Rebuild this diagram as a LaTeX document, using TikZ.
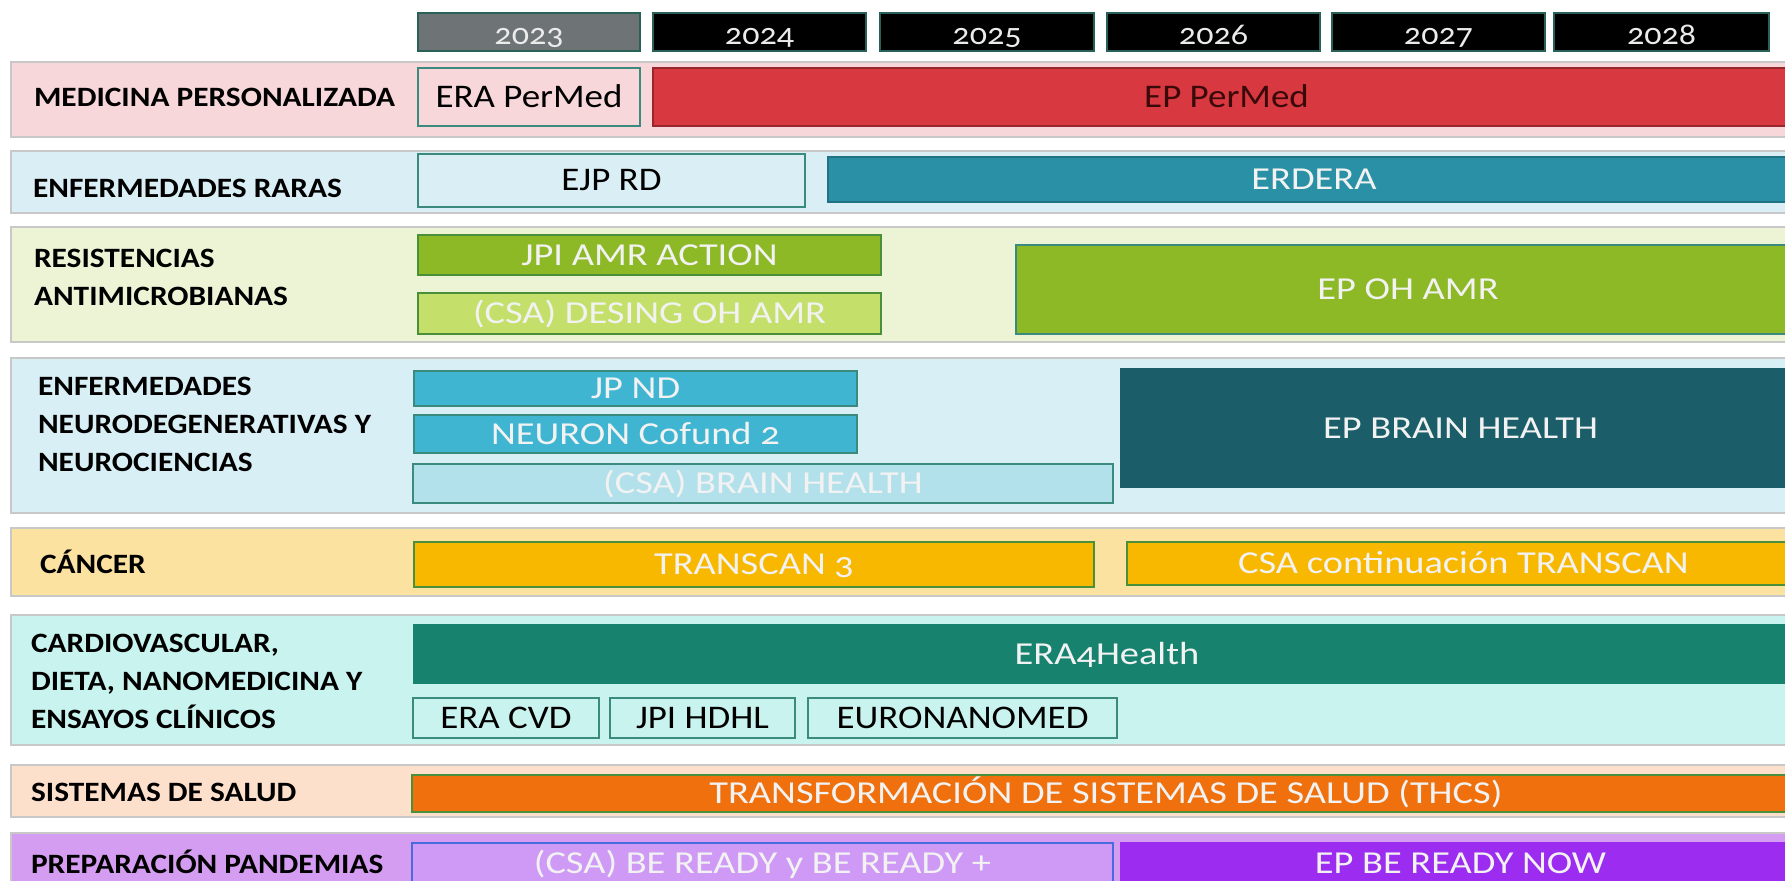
\documentclass[tikz,border=0pt]{standalone}
\usepackage{fontspec}
\setmainfont{Carlito}[Numbers=OldStyle]
\newfontfamily\lblfont{Carlito}[Numbers=OldStyle, FakeStretch=1.12]
\newfontfamily\barfont{Carlito}[Numbers=OldStyle, FakeStretch=1.2]
\definecolor{rowline}{HTML}{C8C8C8}
\definecolor{bgA}{HTML}{F8D7DA}
\definecolor{bgB}{HTML}{D9EEF5}
\definecolor{bgC}{HTML}{EDF4D6}
\definecolor{bgD}{HTML}{D9EFF6}
\definecolor{bgE}{HTML}{FCE2A0}
\definecolor{bgF}{HTML}{C8F3EE}
\definecolor{bgG}{HTML}{FDE0CB}
\definecolor{bgH}{HTML}{D59DF2}
\definecolor{tealline}{HTML}{3A8A7E}
\definecolor{greenline}{HTML}{4A8F3A}
\definecolor{cRed}{HTML}{D8383F}
\definecolor{cErdera}{HTML}{2990A5}
\definecolor{cAmr}{HTML}{8DB926}
\definecolor{cAmrL}{HTML}{C4E06B}
\definecolor{cNd}{HTML}{3FB5D2}
\definecolor{cBrainL}{HTML}{B3E1EB}
\definecolor{cBrain}{HTML}{1B5E6A}
\definecolor{cTrans}{HTML}{F8B800}
\definecolor{cEra4}{HTML}{17836F}
\definecolor{cThcs}{HTML}{EF700C}
\definecolor{cReadyL}{HTML}{CF9AF5}
\definecolor{cReady}{HTML}{9B2CF0}
\definecolor{blueline}{HTML}{4A6AE0}
\definecolor{yeargray}{HTML}{6E7375}
\definecolor{darktext}{HTML}{3A0A0A}
\newcommand\bx[7]{%
  \pgfmathsetmacro\bw{(#4-#2)*0.5}%
  \pgfmathsetmacro\bh{(#5-#3)*0.5}%
  \node[#6, minimum width=\bw pt, minimum height=\bh pt, inner sep=0pt, outer sep=0pt] (#1) at ({(#2+#4)/2},{(#3+#5)/2}) {#7};}
\tikzset{
  rowbg/.style={draw=rowline, line width=0.8pt},
  yearbox/.style={fill=black, draw=tealline!70!black, line width=0.6pt, text=white!92!black,
    font=\lblfont\fontsize{15.2}{17}\selectfont, text height=12.1pt, text depth=0pt},
  lbl/.style={anchor=west, align=left, font=\lblfont\bfseries\fontsize{14}{19}\selectfont, text=black},
  bar/.style={line width=0.9pt, text=white!95!black, font=\barfont\fontsize{16}{18}\selectfont,
    text height=10.1pt, text depth=0pt},
  darkbar/.style={line width=0.9pt, text=black, font=\lblfont\fontsize{16.5}{18}\selectfont,
    text height=10.4pt, text depth=0pt},
}
\begin{document}
\begin{tikzpicture}[x=0.5pt,y=-0.5pt]
\useasboundingbox (0,0) rectangle (1785,881);
\clip (0,0) rectangle (1785,881);
% years
\bx{y23}{418}{13}{640}{51}{yearbox, fill=yeargray}{2023}
\bx{y24}{653}{13}{866}{51}{yearbox}{2024}
\bx{y25}{880}{13}{1094}{51}{yearbox}{2025}
\bx{y26}{1107}{13}{1320}{51}{yearbox}{2026}
\bx{y27}{1332}{13}{1545}{51}{yearbox}{2027}
\bx{y28}{1554}{13}{1769}{51}{yearbox}{2028}
% row backgrounds
\bx{rowA}{11}{62}{1800}{137}{rowbg, fill=bgA}{}
\bx{rowB}{11}{151}{1800}{213}{rowbg, fill=bgB}{}
\bx{rowC}{11}{227}{1800}{342}{rowbg, fill=bgC}{}
\bx{rowD}{11}{358}{1800}{513}{rowbg, fill=bgD}{}
\bx{rowE}{11}{528}{1800}{596}{rowbg, fill=bgE}{}
\bx{rowF}{11}{615}{1800}{745}{rowbg, fill=bgF}{}
\bx{rowG}{11}{765}{1800}{817}{rowbg, fill=bgG}{}
\bx{rowH}{11}{833}{1800}{900}{rowbg, fill=bgH}{}
% labels
\node[lbl] (lA) at (27,97) {MEDICINA PERSONALIZADA};
\node[lbl] (lB) at (26,188) {ENFERMEDADES RARAS};
\node[lbl] (lC) at (27,277) {RESISTENCIAS\\ANTIMICROBIANAS};
\node[lbl] (lD) at (31,424) {ENFERMEDADES\\NEURODEGENERATIVAS Y\\NEUROCIENCIAS};
\node[lbl] (lE) at (33,562) {CÁNCER};
\node[lbl] (lF) at (24,681) {CARDIOVASCULAR,\\DIETA, NANOMEDICINA Y\\ENSAYOS CLÍNICOS};
\node[lbl] (lG) at (24,792) {SISTEMAS DE SALUD};
\node[lbl] (lH) at (24,862) {PREPARACIÓN PANDEMIAS};
% row 1
\bx{erapermed}{418}{68}{640}{126}{darkbar, fill=bgA, draw=tealline}{ERA PerMed}
\bx{eppermed}{653}{68}{1800}{126}{darkbar, fill=cRed, draw=cRed!70!black, text=darktext}{EP PerMed}
% row 2
\bx{ejprd}{418}{154}{805}{207}{darkbar, fill=bgB, draw=tealline}{EJP RD}
\bx{erdera}{828}{157}{1800}{202}{bar, fill=cErdera, draw=cErdera!80!black}{ERDERA}
% row 3
\bx{jpiamr}{418}{235}{881}{275}{bar, fill=cAmr, draw=greenline}{JPI AMR ACTION}
\bx{csaamr}{418}{293}{881}{334}{bar, fill=cAmrL, draw=greenline}{(CSA) DESING OH AMR}
\bx{epamr}{1016}{245}{1800}{334}{bar, fill=cAmr, draw=tealline}{EP OH AMR}
% row 4
\bx{jpnd}{414}{371}{857}{406}{bar, fill=cNd, draw=tealline}{JP ND}
\bx{neuron}{414}{415}{857}{453}{bar, fill=cNd, draw=tealline}{NEURON Cofund 2}
\bx{csabrain}{413}{464}{1113}{503}{bar, fill=cBrainL, draw=tealline}{(CSA) BRAIN HEALTH}
\bx{epbrain}{1121}{369}{1800}{487}{bar, fill=cBrain, draw=cBrain}{EP BRAIN HEALTH}
% row 5
\bx{transcan}{414}{542}{1094}{587}{bar, fill=cTrans, draw=greenline}{TRANSCAN 3}
\bx{csatrans}{1127}{542}{1800}{585}{bar, fill=cTrans, draw=greenline}{CSA continuación TRANSCAN}
% row 6
\bx{era4}{414}{625}{1800}{683}{bar, fill=cEra4, draw=cEra4}{ERA4Health}
\bx{eracvd}{413}{698}{599}{738}{darkbar, fill=bgF, draw=tealline}{ERA CVD}
\bx{jpihdhl}{610}{698}{795}{738}{darkbar, fill=bgF, draw=tealline}{JPI HDHL}
\bx{euronano}{808}{698}{1117}{738}{darkbar, fill=bgF, draw=tealline}{EURONANOMED}
% row 7
\bx{thcs}{412}{775}{1800}{812}{bar, fill=cThcs, draw=greenline}{TRANSFORMACIÓN DE SISTEMAS DE SALUD (THCS)}
% row 8
\bx{csaready}{412}{843}{1113}{900}{bar, fill=cReadyL, draw=blueline, text depth=8.5pt}{(CSA) BE READY y BE READY +}
\bx{epready}{1121}{843}{1800}{900}{bar, fill=cReady, draw=cReady, text depth=8.5pt}{EP BE READY NOW}
\end{tikzpicture}
\end{document}
